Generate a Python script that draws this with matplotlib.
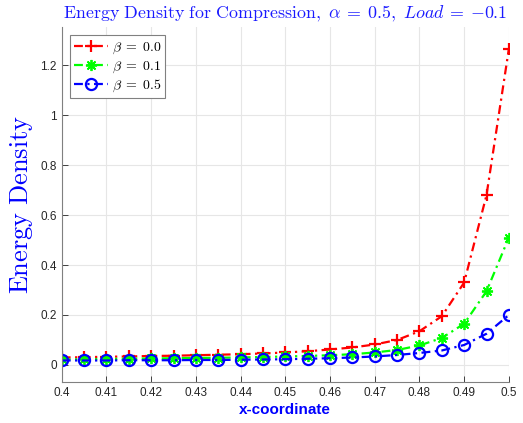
import matplotlib
matplotlib.use('Agg')
import matplotlib.pyplot as plt

x = [0.400, 0.405, 0.410, 0.415, 0.420, 0.425, 0.430, 0.435, 0.440, 0.445, 0.450,
     0.455, 0.460, 0.465, 0.470, 0.475, 0.480, 0.485, 0.490, 0.495, 0.500]
beta0 = [0.030, 0.031, 0.033, 0.034, 0.036, 0.037, 0.039, 0.041, 0.043, 0.046, 0.050,
         0.055, 0.062, 0.070, 0.082, 0.100, 0.135, 0.195, 0.330, 0.680, 1.265]
beta1 = [0.022, 0.023, 0.024, 0.025, 0.026, 0.027, 0.028, 0.029, 0.030, 0.032, 0.034,
         0.036, 0.039, 0.043, 0.050, 0.060, 0.078, 0.108, 0.165, 0.295, 0.510]
beta5 = [0.018, 0.018, 0.018, 0.019, 0.019, 0.019, 0.020, 0.020, 0.021, 0.022, 0.023,
         0.025, 0.027, 0.030, 0.034, 0.040, 0.048, 0.058, 0.080, 0.125, 0.200]
labels = [r'$\beta\;=\;0.0$', r'$\beta\;=\;0.1$', r'$\beta\;=\;0.5$']
xticks = [0.4, 0.41, 0.42, 0.43, 0.44, 0.45, 0.46, 0.47, 0.48, 0.49, 0.5]
yticks = [0, 0.2, 0.4, 0.6, 0.8, 1, 1.2]

plt.rcParams['mathtext.fontset'] = 'cm'
plt.rcParams['font.family'] = 'Liberation Sans'

fig = plt.figure(figsize=(5.23, 4.23), dpi=100)
ax = fig.add_axes([0.118, 0.097, 0.855, 0.839])

dash = (4, 2, 1, 2)
ax.plot(x, beta0, color='#ff0000', lw=1.6, dashes=dash, marker='+', ms=8, mew=1.6, label=labels[0])
ax.plot(x, beta1, color='#00ff00', lw=1.6, dashes=dash, marker=(8, 2, 0), ms=8, mew=1.3, label=labels[1])
ax.plot(x, beta5, color='#0000ff', lw=1.6, dashes=dash, marker='o', ms=8, mew=1.6, mfc='none', label=labels[2])

ax.set_xlim(0.4, 0.5)
ax.set_ylim(-0.068, 1.352)
ax.set_xticks(xticks)
ax.set_xticklabels([('%g' % v) for v in xticks])
ax.set_yticks(yticks)
ax.set_yticklabels([('%g' % v) for v in yticks])
ax.tick_params(direction='in', labelsize=8.5, colors='#262626', length=4, width=0.6)
ax.grid(True, color='#e6e6e6', lw=0.8)
ax.set_axisbelow(True)
for s in ['top', 'right']:
    ax.spines[s].set_visible(False)
for s in ['left', 'bottom']:
    ax.spines[s].set_color('#808080')
    ax.spines[s].set_linewidth(0.8)

ax.set_title(r'$\mathrm{Energy\ Density\ for\ Compression,}\ \alpha\:=\:0.5,\ Load\:=\:{-}0.1$',
             color='#1a1aff', fontsize=12.9, pad=6)
ax.set_ylabel(r'$\mathrm{Energy\ Density}$', color='#0000ff', fontsize=19, labelpad=4)
ax.set_xlabel('x-coordinate', color='#0000ff', fontsize=11, fontweight='bold', labelpad=3)

leg = ax.legend(loc='upper left', fontsize=10, handlelength=2.4, borderaxespad=0.6,
                fancybox=False, edgecolor='#808080', framealpha=1, handletextpad=0.3,
                labelspacing=0.2, borderpad=0.3)
leg.get_frame().set_linewidth(0.8)

fig.savefig('out.png', dpi=100)
